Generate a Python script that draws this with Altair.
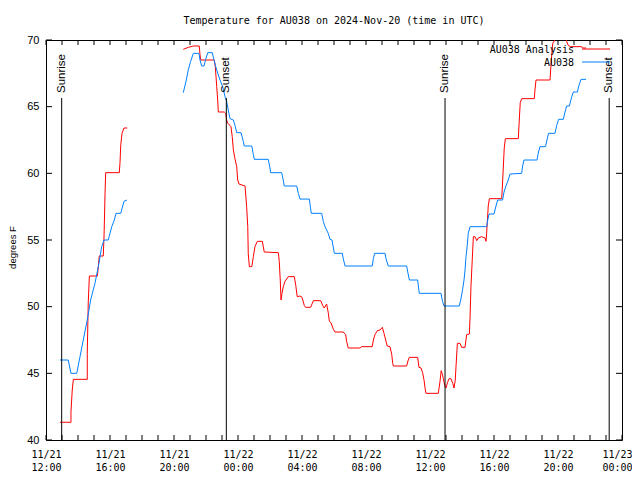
import altair as alt
import pandas as pd

title_text = "Temperature for AU038 on 2024-Nov-20 (time in UTC)"
series_names = ["AU038 Analysis", "AU038"]
series_colors = ["#ff0000", "#0080ff"]
y_title = "degrees F"

# time in hours since 2024-11-21 00:00 UTC
analysis_a_hours = [12.875, 13.56, 13.56, 13.64, 13.71, 14.58, 14.58, 14.64, 14.71, 15.21, 15.27, 15.33,
                    15.58, 15.63, 15.69, 15.73, 16.58, 16.625, 16.67, 16.75, 16.875, 17.08]
analysis_a_temp = [41.33, 41.33, 42.1, 43.75, 44.55, 44.55, 46.5, 50.3, 52.3, 52.3, 53.0, 53.8,
                   53.8, 55.4, 58.5, 60.05, 60.05, 60.8, 62.1, 63.0, 63.4, 63.4]

analysis_b_hours = [20.58, 20.89, 21.21, 21.58, 21.625, 21.67, 22.52, 22.58, 22.625, 22.67, 22.73, 22.77,
                    23.14, 23.23, 23.29, 23.36, 23.5, 23.56, 23.64, 23.71, 23.81, 23.92, 23.98, 24.06,
                    24.44, 24.54, 24.61, 24.64, 24.71, 24.86, 24.96, 25.06, 25.21, 25.52, 25.64, 26.52,
                    26.58, 26.64, 26.69, 26.75, 26.83, 26.94, 27.14, 27.52, 27.61, 27.70, 27.875, 28.0,
                    28.14, 28.23, 28.54, 28.71, 29.17, 29.29, 29.39, 29.54, 29.64, 29.71, 29.81, 29.96,
                    30.06, 30.58, 30.73, 30.79, 30.89, 31.625, 31.73, 32.39, 32.46, 32.56, 32.71, 32.875,
                    33.02, 33.125, 33.23, 33.33, 33.5, 33.61, 33.67, 33.71, 34.54, 34.64, 34.71, 35.23,
                    35.31, 35.44, 35.54, 35.625, 35.71, 35.75, 36.52, 36.625, 36.70, 36.78, 36.83, 36.94,
                    37.0, 37.09, 37.19, 37.31, 37.42, 37.5, 37.58, 37.625, 37.71, 37.875, 37.98, 38.19,
                    38.29, 38.46, 38.5, 38.56, 38.64, 38.71, 38.81, 38.92, 39.02, 39.23, 39.44, 39.5,
                    39.54, 39.64, 39.71, 40.48, 40.52, 40.58, 40.64, 40.71, 41.52, 41.58, 41.64, 41.73,
                    42.52, 42.56, 42.625, 43.5, 43.54, 43.61, 43.67, 43.81, 44.02, 44.44, 44.54, 44.64,
                    44.78, 45.48, 45.54, 45.75]
analysis_b_temp = [69.3, 69.45, 69.55, 69.55, 68.9, 68.5, 68.5, 68.0, 67.25, 66.5, 65.5, 64.6,
                   64.6, 64.5, 64.0, 63.75, 63.6, 63.5, 62.75, 61.75, 61.1, 60.5, 59.5, 59.2,
                   59.05, 57.5, 56.0, 54.0, 53.0, 53.0, 53.75, 54.5, 54.9, 54.9, 54.1, 54.05,
                   53.4, 52.0, 50.5, 51.0, 51.5, 51.9, 52.25, 52.25, 51.6, 50.75, 50.8, 50.7,
                   50.1, 49.95, 49.95, 50.45, 50.45, 50.1, 49.9, 50.2, 49.55, 48.9, 48.8, 48.3,
                   48.1, 48.1, 47.9, 47.4, 46.9, 46.9, 47.0, 47.0, 47.5, 47.9, 48.2, 48.25,
                   48.45, 48.0, 47.5, 47.05, 47.0, 46.4, 45.75, 45.55, 45.55, 46.0, 46.2, 46.2,
                   45.45, 45.4, 45.05, 44.5, 43.75, 43.5, 43.5, 44.4, 45.2, 44.9, 44.6, 44.0,
                   43.9, 44.3, 44.6, 44.6, 44.25, 43.9, 44.5, 45.5, 47.25, 47.25, 46.95, 46.95,
                   47.9, 47.95, 49.1, 51.5, 53.5, 55.25, 55.25, 54.95, 55.15, 55.25, 55.15, 54.9,
                   55.5, 57.55, 58.1, 58.1, 58.9, 60.4, 61.9, 62.6, 62.6, 64.0, 65.3, 65.6,
                   65.6, 66.25, 67.0, 67.0, 67.75, 68.9, 69.75, 70.0, 70.3, 70.3, 69.9, 69.6,
                   69.5, 69.5, 69.4, 69.4]

obs_a_hours = [12.875, 13.39, 13.56, 13.92, 14.125, 14.33, 14.58, 14.79, 15.06, 15.31, 15.48, 15.63,
               15.89, 16.11, 16.27, 16.375, 16.67, 16.875, 17.06]
obs_a_temp = [46.0, 46.0, 45.0, 45.0, 46.25, 47.5, 49.0, 50.5, 51.75, 53.25, 54.5, 55.0,
              55.0, 56.0, 56.5, 57.0, 57.0, 57.9, 58.0]

obs_b_hours = [20.58, 20.75, 20.89, 21.04, 21.21, 21.56, 21.625, 21.73, 21.875, 21.98, 22.11, 22.39,
               22.5, 22.61, 22.71, 22.875, 23.04, 23.19, 23.29, 23.39, 23.5, 23.71, 23.81, 23.92,
               24.19, 24.33, 24.39, 24.86, 24.96, 25.02, 25.89, 26.0, 26.04, 26.73, 26.83, 26.89,
               27.67, 27.77, 27.875, 28.46, 28.52, 28.58, 29.23, 29.33, 29.44, 29.64, 29.75, 29.875,
               29.96, 30.02, 30.52, 30.58, 30.69, 32.39, 32.46, 32.54, 33.19, 33.25, 33.39, 34.54,
               34.61, 34.71, 35.23, 35.27, 35.33, 36.69, 36.78, 36.875, 37.83, 37.92, 38.04, 38.125,
               38.19, 38.25, 38.33, 38.39, 38.5, 39.54, 39.61, 39.69, 40.0, 40.125, 40.23, 40.54,
               40.625, 40.75, 40.89, 41.0, 41.73, 41.79, 41.875, 42.69, 42.78, 42.875, 43.22, 43.31,
               43.41, 43.81, 43.92, 44.04, 44.33, 44.44, 44.54, 44.71, 44.86, 44.96, 45.21, 45.31,
               45.44, 45.75]
obs_b_temp = [66.05, 66.9, 67.75, 68.4, 69.0, 69.0, 68.5, 68.05, 68.05, 68.55, 69.05, 69.05,
              68.5, 68.0, 67.6, 67.0, 66.5, 65.75, 65.4, 64.75, 64.1, 64.0, 63.6, 63.05,
              63.05, 62.4, 62.05, 62.05, 61.4, 61.05, 61.05, 60.4, 60.05, 60.05, 59.5, 59.05,
              59.05, 58.5, 58.07, 58.07, 57.5, 57.0, 57.0, 56.4, 56.0, 55.5, 55.05, 55.0,
              54.4, 54.0, 54.0, 53.6, 53.05, 53.05, 53.6, 54.0, 54.0, 53.6, 53.05, 53.05,
              52.6, 52.0, 52.0, 51.55, 51.0, 51.0, 50.4, 50.05, 50.05, 50.5, 51.3, 52.0,
              52.75, 53.75, 54.6, 55.5, 56.0, 56.0, 56.5, 56.95, 56.95, 57.55, 58.0, 58.0,
              58.6, 59.05, 59.5, 59.95, 60.0, 60.55, 61.0, 61.0, 61.6, 62.0, 62.0, 62.5,
              63.0, 63.0, 63.6, 64.05, 64.05, 64.6, 65.05, 65.05, 65.75, 66.1, 66.1, 66.6,
              67.05, 67.05]

sun_labels = ["Sunrise", "Sunset", "Sunrise", "Sunset"]
sun_hours = [12.98, 23.27, 36.94, 47.2]

x_tick_hours = [12, 16, 20, 24, 28, 32, 36, 40, 44, 48]
x_tick_labels = [["11/21", "12:00"], ["11/21", "16:00"], ["11/21", "20:00"], ["11/22", "00:00"],
                 ["11/22", "04:00"], ["11/22", "08:00"], ["11/22", "12:00"], ["11/22", "16:00"],
                 ["11/22", "20:00"], ["11/23", "00:00"]]
x_minor_hours = list(range(12, 49))
y_tick_values = [40, 45, 50, 55, 60, 65, 70]

# ---- build table ----
rows = []
idx = 0
for name, seg, hrs, tmps in [
    (series_names[0], "a", analysis_a_hours, analysis_a_temp),
    (series_names[0], "b", analysis_b_hours, analysis_b_temp),
    (series_names[1], "a", obs_a_hours, obs_a_temp),
    (series_names[1], "b", obs_b_hours, obs_b_temp),
]:
    for h, t in zip(hrs, tmps):
        rows.append({"series": name, "segment": name + seg, "hour": h, "temp": t, "idx": idx})
        idx += 1
df = pd.DataFrame(rows)

label_expr = "''"
for h, lab in reversed(list(zip(x_tick_hours, x_tick_labels))):
    label_expr = f"datum.value == {h} ? ['{lab[0]}', '{lab[1]}'] : ({label_expr})"

W, H = 576, 400
x_scale = alt.Scale(domain=[12, 48], nice=False, zero=False)
y_scale = alt.Scale(domain=[40, 70], nice=False, zero=False)

color_scale = alt.Scale(domain=series_names, range=series_colors)

last_tick = x_tick_hours[-1]
lines = alt.Chart(df).mark_line(strokeWidth=1, clip=True).encode(
    x=alt.X("hour:Q", scale=x_scale, axis=alt.Axis(
        values=x_tick_hours, labelExpr=label_expr, ticks=False, domain=False, grid=False,
        title=None, labelFont="DejaVu Sans Mono", labelFontSize=10, labelLineHeight=13,
        labelPadding=9, labelColor="black", labelFlush=False, labelOverlap=False,
        labelOffset={"condition": {"test": f"datum.value == {last_tick}", "value": -5}, "value": 0})),
    y=alt.Y("temp:Q", scale=y_scale, axis=alt.Axis(
        values=y_tick_values, ticks=False, domain=False, grid=False, title=y_title,
        labelFont="Liberation Sans", labelFontSize=11, labelPadding=7, labelColor="black",
        titleFont="Liberation Sans", titleFontSize=9.5, titleFontWeight="normal",
        titleColor="black", titleAngle=270, titleX=-34, titleY=207, titleAlign="center",
        titleBaseline="middle")),
    color=alt.Color("series:N", scale=color_scale, legend=None),
    detail="segment:N",
    order="idx:Q",
)

sun_df = pd.DataFrame({"label": sun_labels, "hour": sun_hours})
sun_rules = alt.Chart(sun_df).mark_rule(color="black", strokeWidth=1).encode(
    x=alt.X("hour:Q", scale=x_scale), y=alt.value(58), y2=alt.value(H))
sun_text = alt.Chart(sun_df).mark_text(
    font="Liberation Sans", fontSize=11.5, angle=270, align="left", baseline="middle", color="black"
).encode(x=alt.X("hour:Q", scale=x_scale), y=alt.value(53), text="label:N")

xt_df = pd.DataFrame({"hour": x_minor_hours})
xt_bottom = alt.Chart(xt_df).mark_rule(color="black").encode(
    x=alt.X("hour:Q", scale=x_scale), y=alt.value(H - 5), y2=alt.value(H))
xt_top = alt.Chart(xt_df).mark_rule(color="black").encode(
    x=alt.X("hour:Q", scale=x_scale), y=alt.value(0), y2=alt.value(5))
yt_df = pd.DataFrame({"temp": y_tick_values})
yt_left = alt.Chart(yt_df).mark_rule(color="black").encode(
    y=alt.Y("temp:Q", scale=y_scale), x=alt.value(0), x2=alt.value(6))
yt_right = alt.Chart(yt_df).mark_rule(color="black").encode(
    y=alt.Y("temp:Q", scale=y_scale), x=alt.value(W - 6), x2=alt.value(W))

legend_layers = []
legend_y = [10, 23]
for name, col, ly in zip(series_names, series_colors, legend_y):
    ldf = pd.DataFrame({"series": [name]})
    legend_layers.append(alt.Chart(ldf).mark_text(
        font="DejaVu Sans Mono", fontSize=10, align="right", baseline="middle", color="black"
    ).encode(x=alt.value(528), y=alt.value(ly), text="series:N"))
    legend_layers.append(alt.Chart(ldf).mark_rule(color=col, strokeWidth=1).encode(
        x=alt.value(536), x2=alt.value(564), y=alt.value(ly - 1)))

title_df = pd.DataFrame({"title": [title_text]})
title_mark = alt.Chart(title_df).mark_text(
    font="DejaVu Sans Mono", fontSize=10, align="center", baseline="middle", color="black"
).encode(x=alt.value(W / 2), y=alt.value(-19), text="title:N")

chart = alt.layer(
    lines, sun_rules, sun_text, xt_bottom, xt_top, yt_left, yt_right, title_mark, *legend_layers
).properties(
    width=W, height=H,
    autosize=alt.AutoSizeParams(type="none"),
    padding={"left": 38, "top": 32, "right": 10, "bottom": 32},
    background="white",
).configure_view(stroke="black", strokeWidth=1)

chart.save("out.html", embed_options={"renderer": "svg", "actions": False})
